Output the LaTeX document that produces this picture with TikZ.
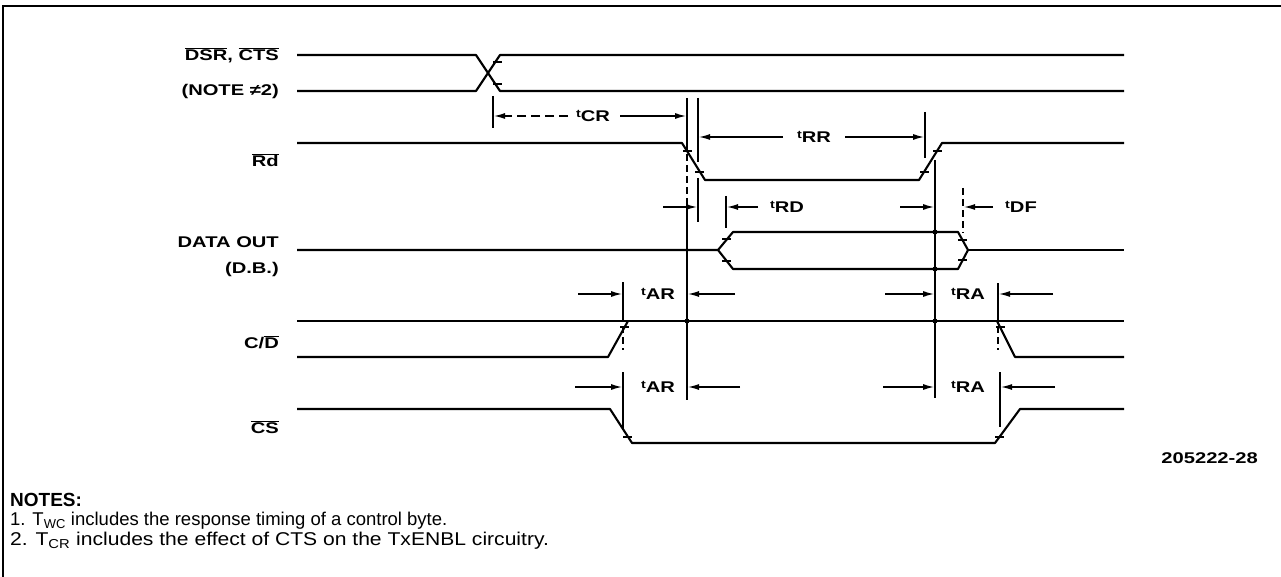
\documentclass[tikz,border=0pt]{standalone}
\usepackage{fontspec}
\setmainfont{Liberation Sans}
\newfontfamily\lblfont[FakeStretch=1.3]{Liberation Sans}
\newfontfamily\widefont[FakeStretch=1.14]{Liberation Sans}
\usetikzlibrary{arrows.meta}
\newcommand{\tlab}[1]{\raisebox{0.55ex}{\fontsize{11}{11}\selectfont t}#1}
\newcommand{\ovl}[1]{$\overline{\hbox{#1}}$}
\begin{document}
\begin{tikzpicture}[x=1pt,y=-1pt,
 sig/.style={line width=2.1pt, line join=round},
 dim/.style={line width=1.3pt},
 dsh/.style={dash pattern=on 7pt off 4pt},
 arr/.style={dim,-{Latex[length=11pt,width=6pt]}},
 lbl/.style={anchor=east, font=\lblfont\bfseries\fontsize{15.5}{15.5}\selectfont, inner sep=0pt},
 tl/.style={font=\lblfont\bfseries\fontsize{15.5}{15.5}\selectfont, inner sep=0pt},
 dot/.style={circle, fill, inner sep=0pt, minimum size=5pt},
 etick/.style={line width=1.4pt}]
\useasboundingbox (0,0) rectangle (1281,577);
\fill[white] (0,0) rectangle (1281,577);
% frame
\draw[line width=2.2pt] (3,577) -- (3,6) -- (1281,6);

% labels
\node[lbl] (lDSR) at (279,55) {\ovl{DSR}, \ovl{CTS}};
\node[lbl] (lNOTE) at (279,91) {(NOTE ≠2)};
\node[lbl] (lRd) at (279,160) {\ovl{Rd}};
\node[lbl] (lDATA) at (279,242) {DATA OUT};
\node[lbl] (lDB) at (279,269) {(D.B.)};
\node[lbl] (lCD) at (279,342) {C/\ovl{D}};
\node[lbl] (lCS) at (279,427) {\ovl{CS}};

% DSR, CTS
\draw[sig] (297,55) -- (476,55) -- (500,91) -- (1124,91);
\draw[sig] (297,91) -- (476,91) -- (500,55) -- (1124,55);
\draw[etick] (493,62) -- (502,62) (493,84) -- (502,84);

% Rd
\draw[sig] (297,143) -- (682,143) -- (705,180) -- (919,180) -- (942,143) -- (1124,143);
\draw[etick] (683,151) -- (692,151) (695,172) -- (704,172);
\draw[etick] (920,172) -- (929,172) (933,151) -- (942,151);

% DATA OUT
\draw[sig] (297,250) -- (718,250) -- (733,232) -- (958,232) -- (968,250) -- (958,269) -- (733,269) -- (718,250);
\draw[sig] (968,250) -- (1124,250);
\draw[etick] (722,239) -- (731,239) (722,261) -- (731,261);
\draw[etick] (958,240) -- (967,240) (958,260) -- (967,260);

% C/D
\draw[sig] (297,321) -- (1124,321);
\draw[sig] (297,357) -- (608,357) -- (628,321);
\draw[sig] (997,321) -- (1015,357) -- (1124,357);
\draw[etick] (620,327) -- (629,327) (996,327) -- (1005,327);

% CS
\draw[sig] (297,409) -- (610,409) -- (632,443) -- (995,443) -- (1020,409) -- (1124,409);
\draw[etick] (623,437) -- (632,437) (995,437) -- (1004,437);

% reference verticals
\draw[dim] (493,96) -- (493,128);
\draw[dim] (687,98) -- (687,143);
\draw[dim,dsh] (687,143) -- (687,215);
\draw[dim] (687,215) -- (687,400);
\draw[dim] (698,98) -- (698,162);
\draw[dim] (698,178) -- (698,222);
\draw[dim] (925,112) -- (925,158);
\draw[dim] (935,160) -- (935,398);
\draw[dim] (726,196) -- (726,228);
\draw[dim,dsh] (963,188) -- (963,233);
\draw[dim] (623,282) -- (623,315);
\draw[dim,dsh] (623,315) -- (623,350);
\draw[dim] (998,283) -- (998,315);
\draw[dim,dsh] (998,315) -- (998,350);
\draw[dim] (623,372) -- (623,430);
\draw[dim] (1000,372) -- (1000,427);

% dots
\node[dot] (d1) at (935,232) {};
\node[dot] (d2) at (935,269) {};
\node[dot] (d3) at (687,321) {};
\node[dot] (d4) at (935,321) {};

% tCR
\node[tl] (tCR) at (593,116) {\tlab{CR}};
\draw[arr,dash pattern=on 9pt off 5pt] (568,116) -- (494,116);
\draw[arr] (620,116) -- (686,116);
% tRR
\node[tl] (tRR) at (814,137) {\tlab{RR}};
\draw[arr] (783,137) -- (699,137);
\draw[arr] (845,137) -- (924,137);
% tRD
\draw[arr] (663,207) -- (697,207);
\draw[arr] (758,207) -- (727,207);
\node[tl] (tRD) at (787,207) {\tlab{RD}};
% tDF
\draw[arr] (900,207) -- (934,207);
\draw[arr] (993,207) -- (964,207);
\node[tl] (tDF) at (1021,207) {\tlab{DF}};
% tAR / tRA (C/D)
\draw[arr] (578,294) -- (622,294);
\node[tl] (tAR1) at (658,294) {\tlab{AR}};
\draw[arr] (735,294) -- (688,294);
\draw[arr] (885,294) -- (934,294);
\node[tl] (tRA1) at (968,294) {\tlab{RA}};
\draw[arr] (1053,294) -- (999,294);
% tAR / tRA (CS)
\draw[arr] (575,387) -- (622,387);
\node[tl] (tAR2) at (658,387) {\tlab{AR}};
\draw[arr] (740,387) -- (688,387);
\draw[arr] (883,387) -- (934,387);
\node[tl] (tRA2) at (968,387) {\tlab{RA}};
\draw[arr] (1055,387) -- (1001,387);

% figure number
\node[tl, anchor=east] (fig) at (1258,458) {205222-28};

% notes
\node[anchor=west, inner sep=0pt, font=\bfseries\fontsize{19}{19}\selectfont] (notes) at (10,500) {NOTES:};
\node[anchor=west, inner sep=0pt, font=\fontsize{18.5}{18.5}\selectfont] (n1) at (10,521) {1. T\textsubscript{WC} includes the response timing of a control byte.};
\node[anchor=west, inner sep=0pt, font=\widefont\fontsize{18.5}{18.5}\selectfont] (n2) at (10,541) {2. T\textsubscript{CR} includes the effect of CTS on the TxENBL circuitry.};
\end{tikzpicture}
\end{document}
